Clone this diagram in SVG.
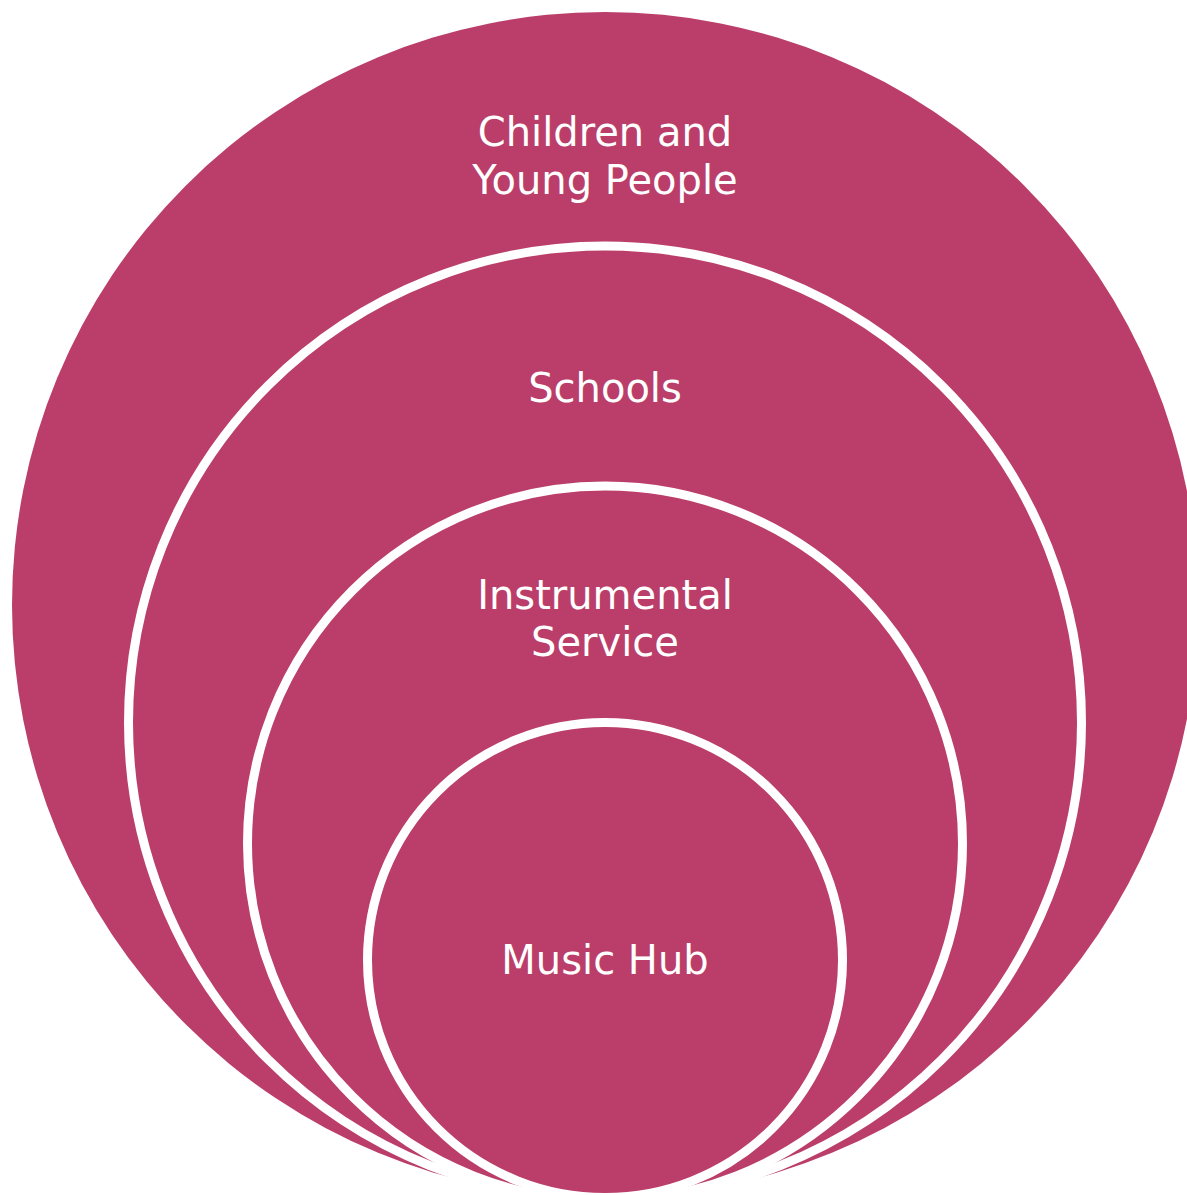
<svg xmlns="http://www.w3.org/2000/svg" width="1187" height="1195" viewBox="0 0 1187 1195">
<style>
.c{fill:#BA3E69;stroke:#FFFFFF;stroke-width:9}
.o{fill:#BA3E69;stroke:none}
.t{font-family:"DejaVu Sans",sans-serif;font-size:40px;fill:#FFFFFF;text-anchor:middle}
</style>
<rect width="1187" height="1195" fill="#FFFFFF"/>
<g id="children">
<circle class="o" cx="605" cy="605" r="593"/>
<text class="t" x="605" y="146">Children and</text>
<text class="t" x="605" y="194">Young People</text>
</g>
<g id="schools">
<circle class="c" cx="605" cy="722.5" r="476.5"/>
<text class="t" x="605" y="402">Schools</text>
</g>
<g id="instrumental">
<circle class="c" cx="605" cy="843.5" r="357.5"/>
<text class="t" x="605" y="609">Instrumental</text>
<text class="t" x="605" y="656">Service</text>
</g>
<g id="musichub">
<circle class="c" cx="605" cy="960" r="237.5"/>
<text class="t" x="605" y="974">Music Hub</text>
</g>
<g id="connectors"/>
</svg>
